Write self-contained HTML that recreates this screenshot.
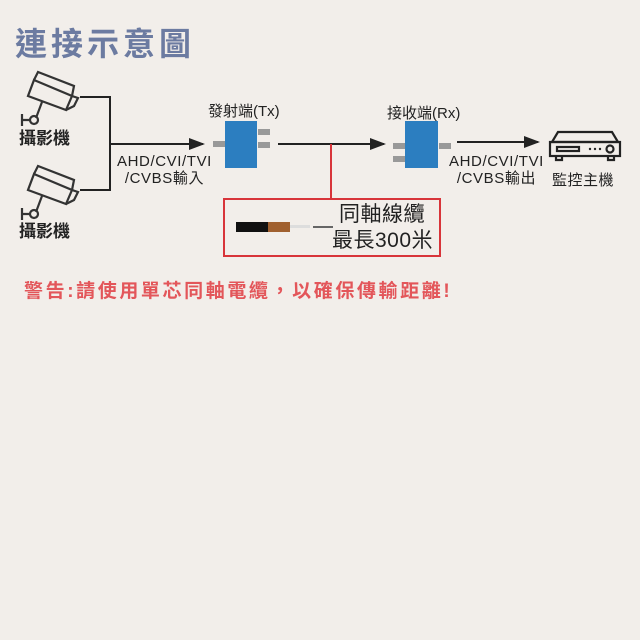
<!DOCTYPE html>
<html><head><meta charset="utf-8"><style>
body{margin:0;width:640px;height:640px;background:#f2eeea;position:relative;overflow:hidden;font-family:"Liberation Sans","Noto Sans CJK TC",sans-serif;}
.t{position:absolute;white-space:nowrap;color:#222;}
</style></head><body>
<div class="t" style="left:15px;top:19px;font-size:32px;font-weight:bold;color:#6c7ba1;letter-spacing:4px;">連接示意圖</div>
<svg width="640" height="640" style="position:absolute;left:0;top:0">
<defs><marker id="a" markerWidth="8" markerHeight="8" refX="7" refY="4" orient="auto"><path d="M0,1 L8,4 L0,7z" fill="#222"/></marker>
<g id="cam" fill="none" stroke="#333" stroke-width="2.2">
<path d="M12,-8 L50,8 L44,22 L6,8 Z"/><path d="M12,-8 L16,-16 L52,-2 L50,8"/><path d="M44,22 L52,18 L56,10 L50,8"/>
<path d="M20,14 L14,30"/><circle cx="12" cy="32" r="4"/><path d="M8,32 L0,32 M0,26 L0,38"/>
</g></defs>
<use href="#cam" x="22" y="88"/>
<use href="#cam" x="22" y="182"/>
<path d="M80,97 H110 V190 H80 M110,144 H203" fill="none" stroke="#222" stroke-width="2" marker-end="url(#a)"/>
<path d="M278,144 H384" stroke="#222" stroke-width="2" marker-end="url(#a)"/>
<path d="M457,142 H538" stroke="#222" stroke-width="2" marker-end="url(#a)"/>
<path d="M331,144 V199" stroke="#d8343a" stroke-width="2"/>
<rect x="224" y="199" width="216" height="57" fill="none" stroke="#d8343a" stroke-width="2"/>
<rect x="225" y="121" width="32" height="47" fill="#2c7ec0"/>
<rect x="213" y="141" width="12" height="6" fill="#999"/>
<rect x="258" y="129" width="12" height="6" fill="#999"/><rect x="258" y="142" width="12" height="6" fill="#999"/>
<rect x="405" y="121" width="33" height="47" fill="#2c7ec0"/>
<rect x="393" y="143" width="12" height="6" fill="#999"/><rect x="393" y="156" width="12" height="6" fill="#999"/>
<rect x="439" y="143" width="12" height="6" fill="#999"/>
<g fill="none" stroke="#222" stroke-width="2.2"><path d="M558,132 L552,142 H618 L612,132 Z"/><rect x="550" y="142" width="70" height="14"/>
<rect x="557" y="147" width="22" height="4"/><circle cx="610" cy="149" r="3.5"/><path d="M556,156 V160 H562 V156 M608,156 V160 H614 V156"/></g>
<circle cx="590" cy="149" r="1.2" fill="#222"/><circle cx="595" cy="149" r="1.2" fill="#222"/><circle cx="600" cy="149" r="1.2" fill="#222"/>
<rect x="236" y="222" width="34" height="10" fill="#111"/><rect x="268" y="222" width="22" height="10" fill="#a0602f"/>
<rect x="290" y="225" width="20" height="3" fill="#ddd"/><rect x="313" y="226" width="20" height="2" fill="#666"/>
</svg>
<div class="t" style="left:19px;top:124px;font-size:17px;font-weight:bold;">攝影機</div>
<div class="t" style="left:19px;top:217px;font-size:17px;font-weight:bold;">攝影機</div>
<div class="t" style="left:117px;top:153px;font-size:15px;text-align:center;line-height:17px;letter-spacing:0.6px;">AHD/CVI/TVI<br>/CVBS輸入</div>
<div class="t" style="left:208px;top:100px;font-size:15px;">發射端(Tx)</div>
<div class="t" style="left:387px;top:102px;font-size:15px;">接收端(Rx)</div>
<div class="t" style="left:449px;top:153px;font-size:15px;text-align:center;line-height:17px;letter-spacing:0.6px;">AHD/CVI/TVI<br>/CVBS輸出</div>
<div class="t" style="left:552px;top:169px;font-size:15px;letter-spacing:0.5px;">監控主機</div>
<div class="t" style="left:339px;top:203px;font-size:21px;line-height:24px;letter-spacing:0.5px;">同軸線纜</div>
<div class="t" style="left:332px;top:229px;font-size:21px;line-height:24px;letter-spacing:0.5px;">最長300米</div>
<div class="t" style="left:24px;top:276px;font-size:19px;font-weight:bold;color:#e3565a;letter-spacing:2.6px;">警告:請使用單芯同軸電纜，以確保傳輸距離!</div>
</body></html>
